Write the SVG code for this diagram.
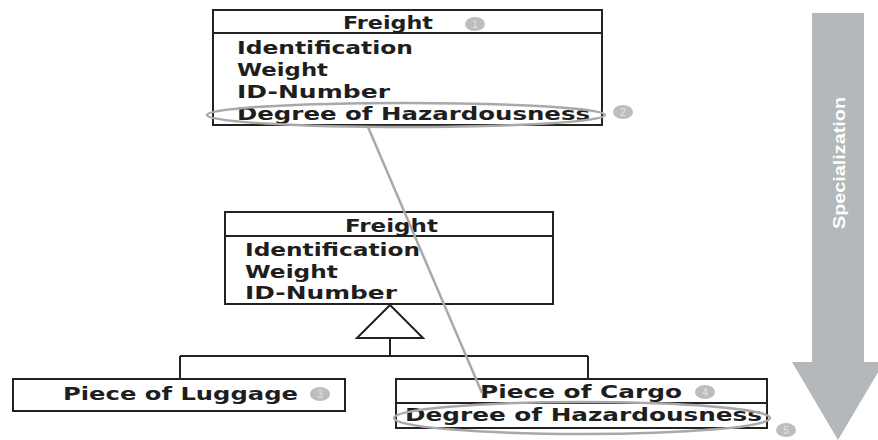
<svg xmlns="http://www.w3.org/2000/svg" width="878" height="440" viewBox="0 0 878 440">
  <style>
    .box { fill: #fff; stroke: #222; stroke-width: 2; }
    .sep { stroke: #222; stroke-width: 2; }
    .t { font-family: "DejaVu Sans", "Liberation Sans", sans-serif; font-weight: bold; font-size: 18px; fill: #1e1e1e; }
    .badge { fill: #bdbdbd; }
    .bn { font-family: "Liberation Sans", sans-serif; font-size: 10px; fill: #e4e4e4; text-anchor: middle; }
    .hl { fill: none; stroke: #a9a9a9; stroke-width: 2.5; }
    .edge { fill: none; stroke: #222; stroke-width: 2; }
  </style>

  <!-- specialization arrow -->
  <g id="specialization">
    <polygon points="812,13 864,13 864,362 884,362 838,440 792,362 812,362" fill="#b5b8bb"/>
    <text transform="translate(845,163) rotate(-90)" text-anchor="middle" font-family="Liberation Sans, sans-serif" font-weight="bold" font-size="17" fill="#fff" textLength="132" lengthAdjust="spacingAndGlyphs">Specialization</text>
  </g>

  <!-- inheritance connectors -->
  <g id="connectors">
    <polygon points="390,305 357,338 423,338" fill="#fff" stroke="#222" stroke-width="2"/>
    <path class="edge" d="M390,338 V356 M180,356 H588 M180,356 V379 M588,356 V379"/>
  </g>

  <!-- general class -->
  <g id="freight-general">
    <rect class="box" x="213" y="10" width="389" height="115"/>
    <line class="sep" x1="213" y1="33" x2="602" y2="33"/>
    <text class="t" x="343" y="29" textLength="90" lengthAdjust="spacingAndGlyphs">Freight</text>
    <text class="t" x="237" y="54" textLength="176" lengthAdjust="spacingAndGlyphs">Identification</text>
    <text class="t" x="237" y="76" textLength="91" lengthAdjust="spacingAndGlyphs">Weight</text>
    <text class="t" x="237" y="98" textLength="153" lengthAdjust="spacingAndGlyphs">ID-Number</text>
    <text class="t" x="237" y="120" textLength="353" lengthAdjust="spacingAndGlyphs">Degree of Hazardousness</text>
    <ellipse class="badge" cx="475" cy="24" rx="10" ry="7"/>
    <text class="bn" x="475" y="28">1</text>
  </g>

  <!-- superclass -->
  <g id="freight-super">
    <rect class="box" x="225" y="212" width="328" height="92"/>
    <line class="sep" x1="225" y1="236" x2="553" y2="236"/>
    <text class="t" x="345" y="232" textLength="93" lengthAdjust="spacingAndGlyphs">Freight</text>
    <text class="t" x="245" y="256" textLength="175" lengthAdjust="spacingAndGlyphs">Identification</text>
    <text class="t" x="245" y="278" textLength="93" lengthAdjust="spacingAndGlyphs">Weight</text>
    <text class="t" x="245" y="299" textLength="152" lengthAdjust="spacingAndGlyphs">ID-Number</text>
  </g>

  <!-- subclasses -->
  <g id="piece-of-luggage">
    <rect class="box" x="13" y="379" width="332" height="32"/>
    <text class="t" x="63" y="400" textLength="235" lengthAdjust="spacingAndGlyphs">Piece of Luggage</text>
    <ellipse class="badge" cx="320" cy="394" rx="10" ry="7"/>
    <text class="bn" x="320" y="398">3</text>
  </g>

  <g id="piece-of-cargo">
    <rect class="box" x="396" y="379" width="371" height="49"/>
    <line class="sep" x1="396" y1="403" x2="767" y2="403"/>
    <text class="t" x="480" y="398" textLength="202" lengthAdjust="spacingAndGlyphs">Piece of Cargo</text>
    <text class="t" x="405" y="421" textLength="357" lengthAdjust="spacingAndGlyphs">Degree of Hazardousness</text>
    <ellipse class="badge" cx="705" cy="392" rx="10" ry="7"/>
    <text class="bn" x="705" y="396">4</text>
  </g>

  <!-- highlight: attribute moved down -->
  <g id="highlight">
    <ellipse class="hl" cx="406" cy="115" rx="199" ry="12"/>
    <line class="hl" x1="368" y1="127" x2="482" y2="393"/>
    <ellipse class="hl" cx="582" cy="418" rx="188" ry="16"/>
    <ellipse class="badge" cx="623" cy="112" rx="10" ry="7"/>
    <text class="bn" x="623" y="116">2</text>
    <ellipse class="badge" cx="786" cy="430" rx="10" ry="7"/>
    <text class="bn" x="786" y="434">5</text>
  </g>
</svg>
